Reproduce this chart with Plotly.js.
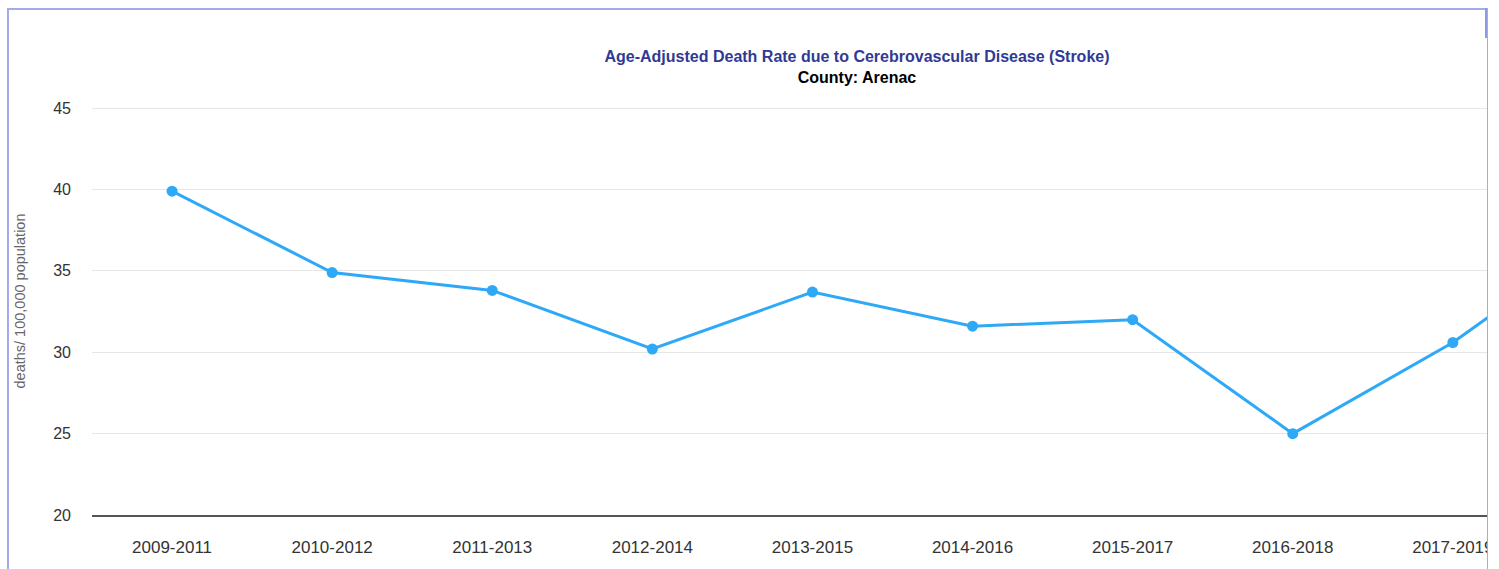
<!DOCTYPE html>
<html>
<head>
<meta charset="utf-8">
<script src="https://cdn.plot.ly/plotly-3.0.1.min.js"></script>
<style>
  html, body { margin: 0; padding: 0; background: #ffffff; overflow: hidden; }
  #clip { position: absolute; left: 0; top: 0; width: 1487px; height: 569px; overflow: hidden; }
  #chart { position: absolute; left: 0; top: 0; width: 1720px; height: 569px; }
  #frame { position: absolute; left: 7px; top: 8px; width: 1478px; height: 600px;
           border-top: 2px solid #a3aaee; border-left: 2px solid #a3aaee; border-right: 1px solid #a3aaee;
           pointer-events: none; box-sizing: content-box; }
  #thumb { position: absolute; left: 1485px; top: 8px; width: 2px; height: 30px; background: #8f98e6; pointer-events: none; }
</style>
</head>
<body>
<div id="clip"><div id="chart"></div></div>
<div id="frame"></div>
<div id="thumb"></div>
<script>
const periods = ["2009-2011", "2010-2012", "2011-2013", "2012-2014", "2013-2015",
                 "2014-2016", "2015-2017", "2016-2018", "2017-2019", "2018-2020"];
const rates = [39.9, 34.9, 33.8, 30.2, 33.7, 31.6, 32.0, 25.0, 30.6, 37.6];
const yTicks = [20, 25, 30, 35, 40, 45];
const titleMain = "Age-Adjusted Death Rate due to Cerebrovascular Disease (Stroke)";
const titleSub = "County: Arenac";
const yTitle = "deaths/ 100,000 population";

const trace = {
  type: "scatter",
  mode: "lines+markers",
  x: periods,
  y: rates,
  line: { color: "#2ea9f7", width: 3 },
  marker: { color: "#2ea9f7", size: 11 },
  cliponaxis: true,
  hoverinfo: "x+y"
};

const layout = {
  width: 1720,
  height: 569,
  margin: { l: 92, r: 27, t: 87, b: 54 },
  paper_bgcolor: "#ffffff",
  plot_bgcolor: "#ffffff",
  showlegend: false,
  font: { family: "Liberation Sans, Arial, sans-serif", color: "#333333" },
  title: {
    text: "<b><span style='color:#303a94'>" + titleMain + "</span></b><br><b>" + titleSub + "</b>",
    font: { size: 16, color: "#000000", family: "Liberation Sans, Arial, sans-serif" },
    xref: "container", x: 857 / 1720, xanchor: "center",
    yref: "container", y: 1 - 62 / 569, yanchor: "top"
  },
  xaxis: {
    type: "category",
    range: [-0.5, 9.5],
    showgrid: false,
    zeroline: false,
    showline: true,
    linecolor: "#555555",
    linewidth: 2,
    ticks: "",
    ticklabelstandoff: 16,
    tickfont: { size: 17, color: "#333333" },
    fixedrange: true
  },
  yaxis: {
    range: [20, 46.3],
    tickvals: yTicks,
    showgrid: true,
    gridcolor: "#e6e6e6",
    gridwidth: 1,
    zeroline: false,
    showline: false,
    ticks: "",
    ticklabelstandoff: 20,
    tickfont: { size: 16, color: "#333333" },
    title: { text: yTitle, font: { size: 14.5, color: "#666666" }, standoff: 24 },
    fixedrange: true
  }
};

Plotly.newPlot("chart", [trace], layout, { displayModeBar: false, staticPlot: true });
</script>
</body>
</html>
